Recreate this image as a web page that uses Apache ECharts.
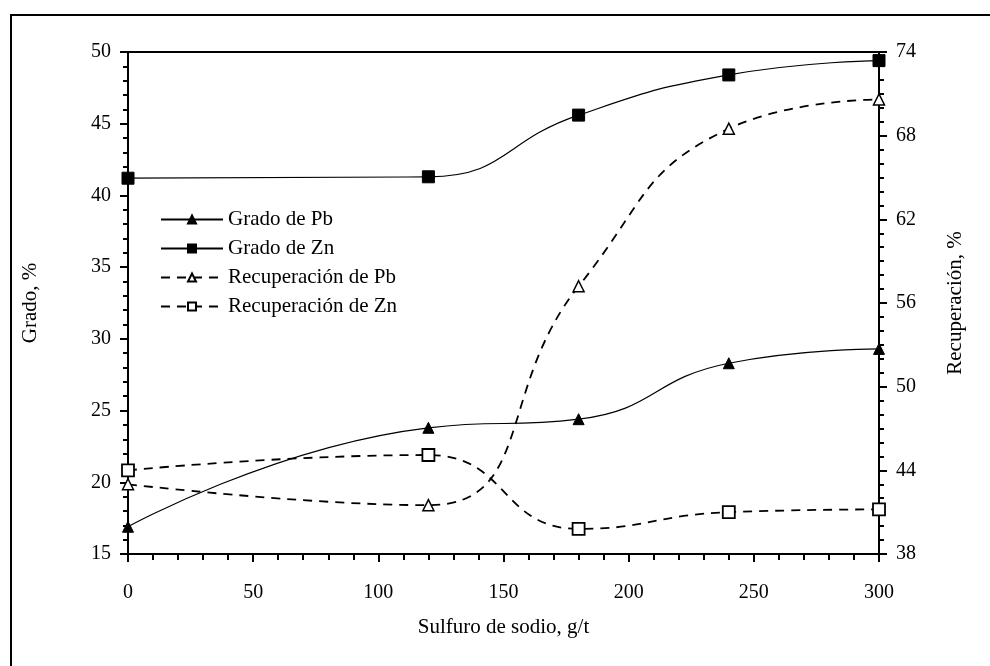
<!DOCTYPE html>
<html>
<head>
<meta charset="utf-8">
<script src="https://cdn.jsdelivr.net/npm/echarts@6/dist/echarts.min.js"></script>
<style>html,body{margin:0;padding:0;background:#fff}#c{width:990px;height:666px}</style>
</head>
<body>
<div id="c"></div>
<script>
const xValues = [0, 120, 180, 240, 300];
const gradoPb = [16.9, 23.8, 24.4, 28.3, 29.3];
const gradoZn = [41.2, 41.3, 45.6, 48.4, 49.4];
const recPb = [43.0, 41.5, 57.2, 68.5, 70.6];
const recZn = [44.0, 45.1, 39.8, 41.0, 41.2];
const seriesNames = ['Grado de Pb', 'Grado de Zn', 'Recuperación de Pb', 'Recuperación de Zn'];

const pairs = ys => xValues.map((x, i) => [x, ys[i]]);
const FONT = 'Liberation Serif';
const LBL = 20;
const TTL = 21;

const chart = echarts.init(document.getElementById('c'), null, {renderer: 'canvas'});
chart.setOption({
  animation: false,
  backgroundColor: '#fff',
  textStyle: {fontFamily: FONT, color: '#000'},
  grid: {left: 128, right: 111, top: 52, bottom: 112, show: true, borderColor: '#000', borderWidth: 2},
  legend: {
    left: 155, top: 204, orient: 'vertical', itemWidth: 62, itemHeight: 10, itemGap: 8,
    textStyle: {fontFamily: FONT, fontSize: TTL, color: '#000'},
    data: seriesNames
  },
  xAxis: {
    type: 'value', min: 0, max: 300, interval: 50,
    name: 'Sulfuro de sodio, g/t', nameLocation: 'middle', nameGap: 63,
    nameTextStyle: {fontFamily: FONT, fontSize: TTL, color: '#000'},
    axisLine: {lineStyle: {color: '#000', width: 2}},
    axisTick: {show: true, inside: false, length: 8, lineStyle: {color: '#000', width: 2}},
    minorTick: {show: true, splitNumber: 5, length: 6, lineStyle: {color: '#000', width: 2}},
    splitLine: {show: false},
    axisLabel: {fontFamily: FONT, fontSize: LBL, color: '#000', margin: 29}
  },
  yAxis: [{
    type: 'value', min: 15, max: 50, interval: 5, position: 'left',
    name: 'Grado, %', nameLocation: 'middle', nameGap: 87,
    nameTextStyle: {fontFamily: FONT, fontSize: TTL, color: '#000'},
    axisLine: {show: true, lineStyle: {color: '#000', width: 2}},
    axisTick: {show: true, length: 8, lineStyle: {color: '#000', width: 2}},
    minorTick: {show: true, splitNumber: 5, length: 5, lineStyle: {color: '#000', width: 2}},
    splitLine: {show: false},
    axisLabel: {fontFamily: FONT, fontSize: LBL, color: '#000', margin: 17}
  }, {
    type: 'value', min: 38, max: 74, interval: 6, position: 'right',
    name: 'Recuperación, %', nameLocation: 'middle', nameGap: 66,
    nameTextStyle: {fontFamily: FONT, fontSize: TTL, color: '#000'},
    axisLine: {show: true, lineStyle: {color: '#000', width: 2}},
    axisTick: {show: true, length: 8, lineStyle: {color: '#000', width: 2}},
    minorTick: {show: true, splitNumber: 6, length: 5, lineStyle: {color: '#000', width: 2}},
    splitLine: {show: false},
    axisLabel: {fontFamily: FONT, fontSize: LBL, color: '#000', margin: 17}
  }],
  graphic: [
    {type: 'line', shape: {x1: 10, y1: 15, x2: 990, y2: 15}, style: {stroke: '#000', lineWidth: 2}, z: 100},
    {type: 'line', shape: {x1: 11, y1: 15, x2: 11, y2: 666}, style: {stroke: '#000', lineWidth: 2}, z: 100}
  ],
  series: [
    {name: seriesNames[0], type: 'line', yAxisIndex: 0, data: pairs(gradoPb), smooth: 0.5,
     symbol: 'triangle', symbolSize: 11, lineStyle: {color: '#000', width: 1.2},
     itemStyle: {color: '#000', borderColor: '#000', borderWidth: 1}},
    {name: seriesNames[1], type: 'line', yAxisIndex: 0, data: pairs(gradoZn), smooth: 0.5,
     symbol: 'rect', symbolSize: 12, lineStyle: {color: '#000', width: 1.2},
     itemStyle: {color: '#000', borderColor: '#000', borderWidth: 1}},
    {name: seriesNames[2], type: 'line', yAxisIndex: 1, data: pairs(recPb), smooth: 0.5,
     symbol: 'triangle', symbolSize: 11, lineStyle: {color: '#000', width: 1.8, type: [9, 7]},
     itemStyle: {color: '#fff', borderColor: '#000', borderWidth: 1.5}},
    {name: seriesNames[3], type: 'line', yAxisIndex: 1, data: pairs(recZn), smooth: 0.5,
     symbol: 'rect', symbolSize: 12, lineStyle: {color: '#000', width: 1.8, type: [9, 7]},
     itemStyle: {color: '#fff', borderColor: '#000', borderWidth: 1.8}}
  ]
});
</script>
</body>
</html>
